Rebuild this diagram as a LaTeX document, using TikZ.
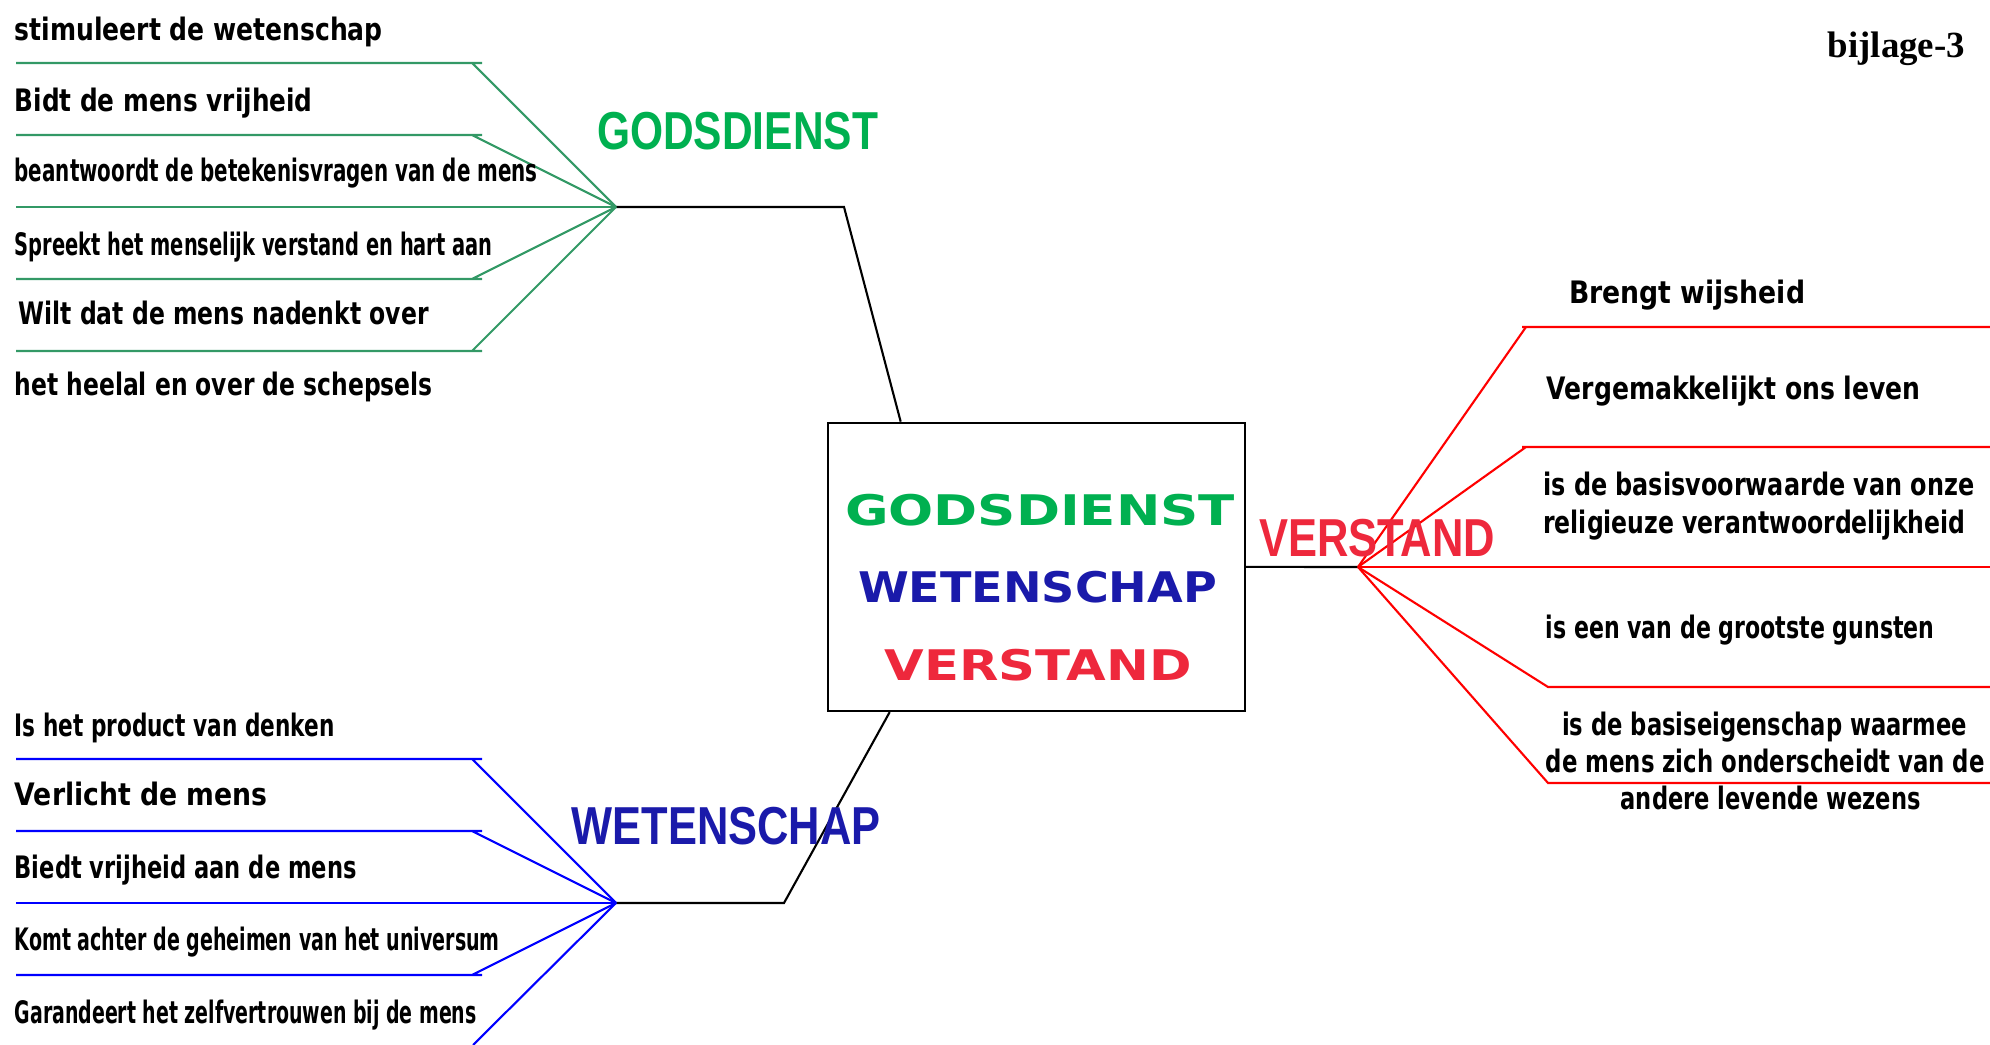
\documentclass[tikz,border=0pt]{standalone}
\usepackage{fontspec}
\usepackage{graphicx}
\usepackage{xcolor}
\setmainfont{Liberation Serif}
\newfontfamily\arialish{Liberation Sans}
\newfontfamily\dejavu{DejaVu Sans}
\usetikzlibrary{positioning}

% stretch a line of text to a measured width, keep its height
\newcommand{\fitto}[2]{\resizebox{#1}{\height}{#2}}

\definecolor{gdline}{RGB}{51,153,102}
\definecolor{gdgreen}{RGB}{0,176,80}
\definecolor{wsblue}{RGB}{26,26,170}
\definecolor{vsred}{RGB}{238,40,60}

\tikzset{
  leaf/.style={anchor=base west, inner sep=0pt,
    font=\dejavu\bfseries\fontsize{8.8}{10.5}\selectfont},
  bigname/.style={anchor=base, inner sep=0pt,
    font=\arialish\bfseries\fontsize{15.2}{18}\selectfont},
  coretxt/.style={anchor=base, inner sep=0pt,
    font=\dejavu\bfseries\fontsize{12}{14}\selectfont},
  core/.style={draw, line width=0.7pt, minimum width=41.7mm,
    minimum height=28.8mm, inner sep=0pt},
  trunk/.style={black, line width=0.6pt},
  gbranch/.style={gdline, line width=0.6pt},
  wbranch/.style={blue, line width=0.6pt},
  vbranch/.style={red, line width=0.6pt}
}

\begin{document}
\begin{tikzpicture}[x=0.1mm, y=-0.1mm]
\useasboundingbox (0,0) rectangle (1990,1045);

% centre box
\node[core] (core) at (1036.4,566.9) {};
\node[coretxt, text=gdgreen] (cg) at (1040,526) {\fitto{39mm}{GODSDIENST}};
\node[coretxt, text=wsblue] (cw) at (1037.5,602.7) {\fitto{35.9mm}{WETENSCHAP}};
\node[coretxt, text=vsred] (cv) at (1038.4,680.7) {\fitto{30.7mm}{VERSTAND}};

% hubs
\coordinate (ghub) at (616,207);
\coordinate (gbend) at (844,207);
\coordinate (whub) at (616,903);
\coordinate (wbend) at (784,903);
\coordinate (vhub) at (1358,567);

% trunks to the box
\draw[trunk] (ghub) -- (gbend) -- ([xshift=7.4mm]core.north west);
\draw[trunk] (whub) -- (wbend) -- ([xshift=6.3mm]core.south west);
\draw[trunk] (core.east) -- (vhub);

% godsdienst branches
\draw[gbranch] (ghub) -- ++(-144,-144) ++(10,0) -- ++(-466,0);
\draw[gbranch] (ghub) -- ++(-144,-72) ++(10,0) -- ++(-466,0);
\draw[gbranch] (ghub) -- ++(-600,0);
\draw[gbranch] (ghub) -- ++(-144,72) ++(10,0) -- ++(-466,0);
\draw[gbranch] (ghub) -- ++(-144,144) ++(10,0) -- ++(-466,0);

% wetenschap branches
\draw[wbranch] (whub) -- ++(-144,-144) ++(10,0) -- ++(-466,0);
\draw[wbranch] (whub) -- ++(-144,-72) ++(10,0) -- ++(-466,0);
\draw[wbranch] (whub) -- ++(-600,0);
\draw[wbranch] (whub) -- ++(-144,72) ++(10,0) -- ++(-466,0);
\draw[wbranch] (whub) -- ++(-143,142);

% verstand branches
\draw[vbranch] (vhub) -- ++(168,-240) ++(-4,0) -- ++(468,0);
\draw[vbranch] (vhub) -- ++(168,-120) ++(-4,0) -- ++(468,0);
\draw[vbranch] (vhub) -- ++(632,0);
\draw[vbranch] (vhub) -- ++(190,120) -- ++(442,0);
\draw[vbranch] (vhub) -- ++(190,216) -- ++(442,0);

% branch names
\node[bigname, text=gdgreen] (gname) at (737.5,150) {\fitto{28.1mm}{GODSDIENST}};
\node[bigname, text=wsblue] (wname) at (726,845) {\fitto{30.9mm}{WETENSCHAP}};
\node[bigname, text=vsred] (vname) at (1377,557) {\fitto{23.6mm}{VERSTAND}};

% godsdienst texts
\node[leaf] (g1) at (14,41) {\fitto{36.8mm}{stimuleert de wetenschap}};
\node[leaf] (g2) at (14,111.7) {\fitto{29.8mm}{Bidt de mens vrijheid}};
\node[leaf] (g3) at (14,181.7) {\fitto{52.3mm}{beantwoordt de betekenisvragen van de mens}};
\node[leaf] (g4) at (14,256) {\fitto{47.8mm}{Spreekt het menselijk verstand en hart aan}};
\node[leaf] (g5) at (18,325) {\fitto{41mm}{Wilt dat de mens nadenkt over}};
\node[leaf] (g6) at (14,396) {\fitto{41.8mm}{het heelal en over de schepsels}};

% wetenschap texts
\node[leaf] (w1) at (14,736.7) {\fitto{32mm}{Is het product van denken}};
\node[leaf] (w2) at (14,806) {\fitto{25.3mm}{Verlicht de mens}};
\node[leaf] (w3) at (14,879) {\fitto{34.2mm}{Biedt vrijheid aan de mens}};
\node[leaf] (w4) at (14,951) {\fitto{48.5mm}{Komt achter de geheimen van het universum}};
\node[leaf] (w5) at (14,1023) {\fitto{46.2mm}{Garandeert het zelfvertrouwen bij de mens}};

% verstand texts
\node[leaf] (v1) at (1568.5,303.6) {\fitto{23.6mm}{Brengt wijsheid}};
\node[leaf] (v2) at (1546,400) {\fitto{37.4mm}{Vergemakkelijkt ons leven}};
\node[leaf] (v3) at (1542.6,496) {\fitto{43.1mm}{is de basisvoorwaarde van onze}};
\node[leaf] (v3b) at (1542.6,534) {\fitto{42.2mm}{religieuze verantwoordelijkheid}};
\node[leaf] (v4) at (1545,639) {\fitto{38.9mm}{is een van de grootste gunsten}};
\node[leaf] (v5) at (1561.5,735.7) {\fitto{40.5mm}{is de basiseigenschap waarmee}};
\node[leaf] (v5b) at (1545,773) {\fitto{43.9mm}{de mens zich onderscheidt van de}};
\node[leaf] (v5c) at (1620,810) {\fitto{30mm}{andere levende wezens}};

\node[anchor=base west, inner sep=0pt, font=\bfseries\fontsize{10.5}{12}\selectfont]
  (tag) at (1827,58) {bijlage-3};
\end{tikzpicture}
\end{document}
